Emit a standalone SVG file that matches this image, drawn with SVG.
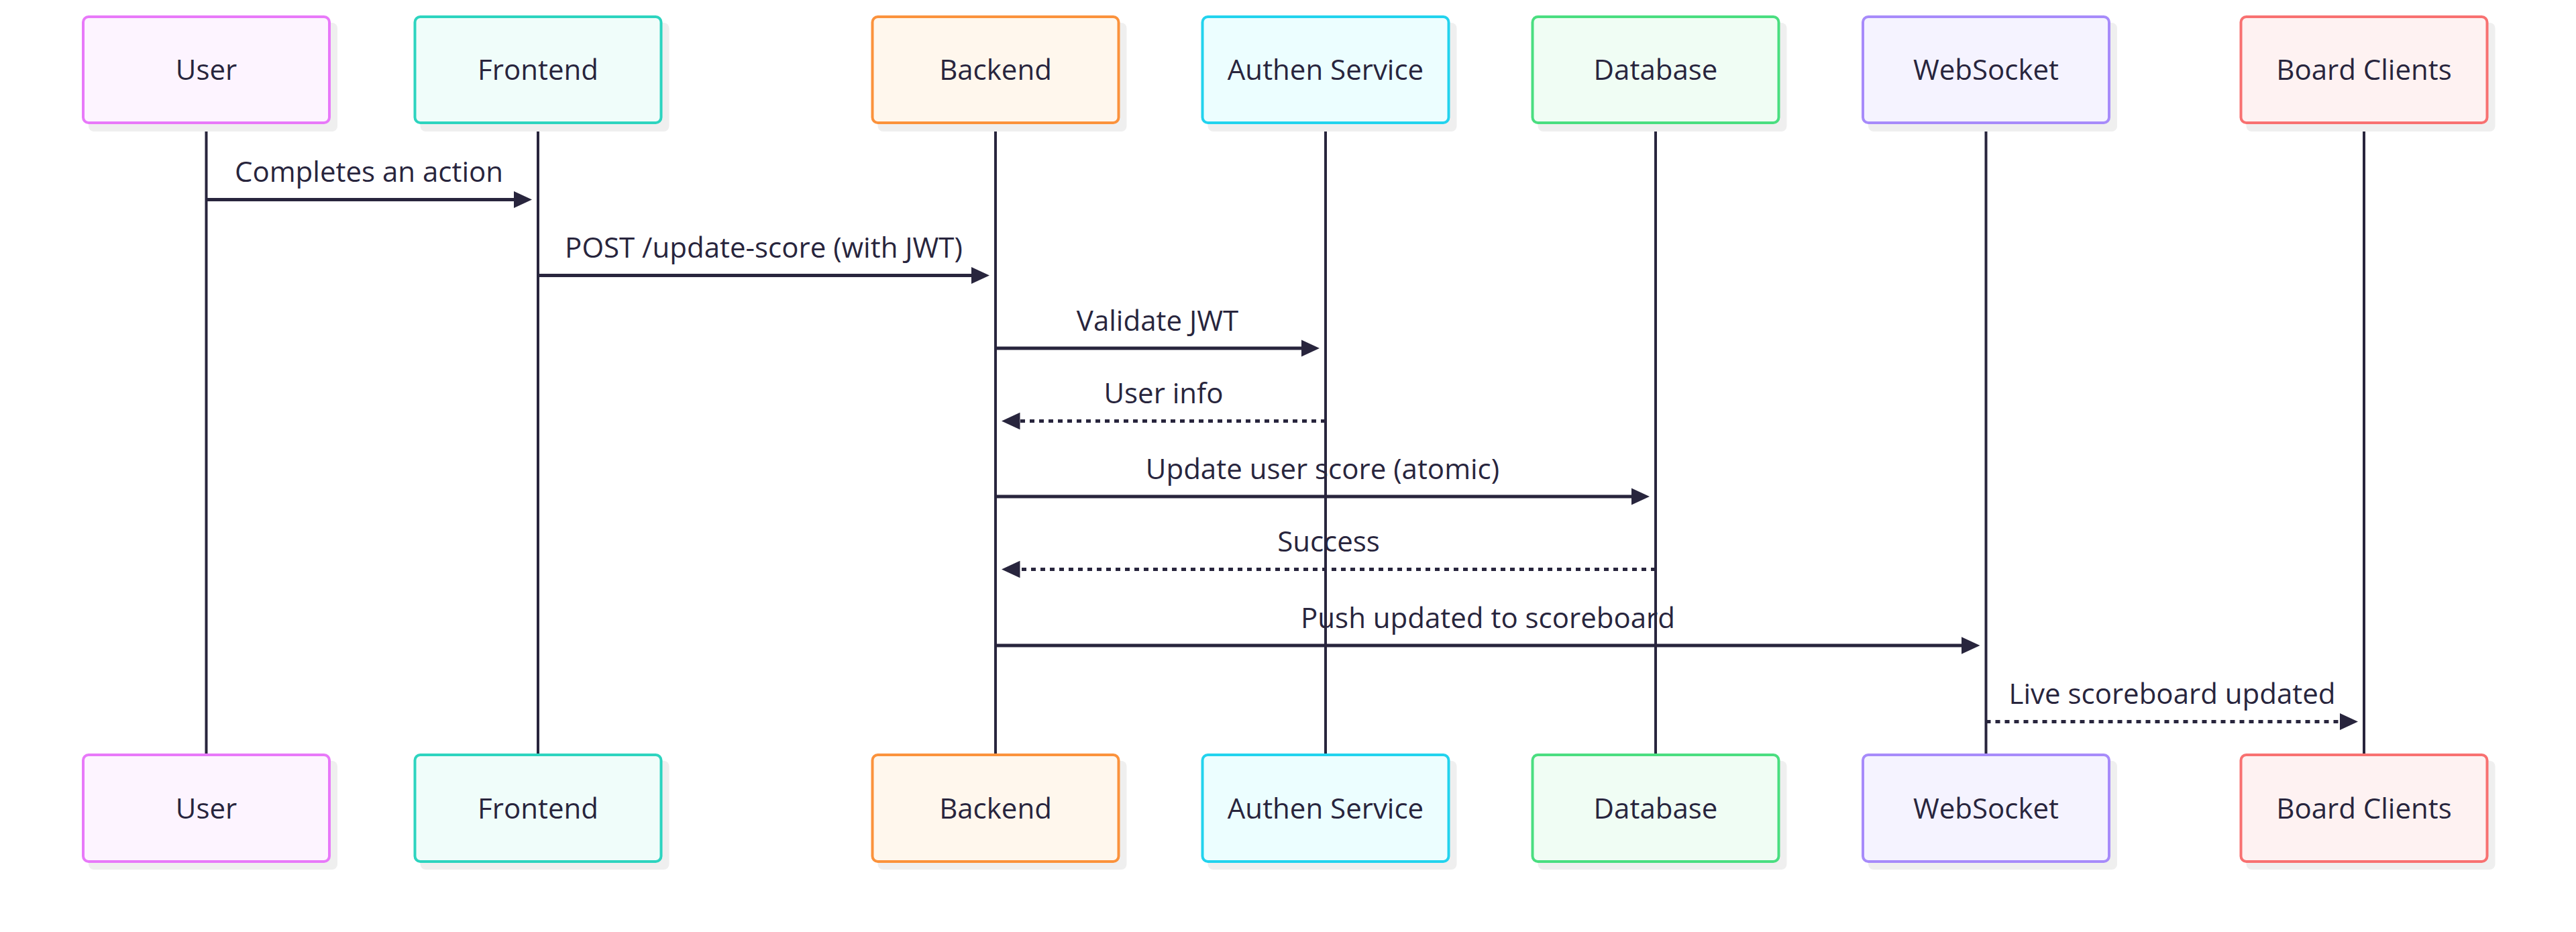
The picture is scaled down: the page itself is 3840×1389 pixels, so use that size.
<svg xmlns="http://www.w3.org/2000/svg" width="3840" height="1389" viewBox="0 0 3840 1389">
<style>
.shadow{fill:#efefef}
.box{stroke-width:4}
.lbl{font-family:"Open Sans","Noto Sans","Liberation Sans",sans-serif;font-size:42px;fill:#28253d;text-anchor:middle}
.life{stroke:#28253d;stroke-width:4;fill:none}
.msg{stroke:#28253d;stroke-width:4.9;fill:none;marker-end:url(#ah)}
.dash{stroke-dasharray:7 7}
</style>
<defs>
<marker id="ah" markerUnits="userSpaceOnUse" viewBox="0 0 27.5 25.5" refX="7.5" refY="12.75" markerWidth="27.5" markerHeight="25.5" orient="auto"><path d="M0,0 L27.5,12.75 L0,25.5 z" fill="#28253d"/></marker>
</defs>
<rect width="3840" height="1389" fill="#ffffff"/>
<g id="lifelines">
<line class="life" x1="307.5" y1="183" x2="307.5" y2="1125"/>
<line class="life" x1="802" y1="183" x2="802" y2="1125"/>
<line class="life" x1="1484" y1="183" x2="1484" y2="1125"/>
<line class="life" x1="1976" y1="183" x2="1976" y2="1125"/>
<line class="life" x1="2468" y1="183" x2="2468" y2="1125"/>
<line class="life" x1="2960.5" y1="183" x2="2960.5" y2="1125"/>
<line class="life" x1="3524" y1="183" x2="3524" y2="1125"/>
</g>
<g id="user">
<rect class="shadow" x="132" y="34" width="371" height="162" rx="8"/>
<rect class="box" x="124" y="25" width="367" height="158" rx="8" fill="#fdf4ff" stroke="#e879f9"/>
<text class="lbl" x="307.5" y="119">User</text>
<rect class="shadow" x="132" y="1134" width="371" height="162" rx="8"/>
<rect class="box" x="124" y="1125" width="367" height="159" rx="8" fill="#fdf4ff" stroke="#e879f9"/>
<text class="lbl" x="307.5" y="1219.5">User</text>
</g>
<g id="frontend">
<rect class="shadow" x="626.5" y="34" width="371" height="162" rx="8"/>
<rect class="box" x="618.5" y="25" width="367" height="158" rx="8" fill="#f0fdfa" stroke="#2dd4bf"/>
<text class="lbl" x="802" y="119">Frontend</text>
<rect class="shadow" x="626.5" y="1134" width="371" height="162" rx="8"/>
<rect class="box" x="618.5" y="1125" width="367" height="159" rx="8" fill="#f0fdfa" stroke="#2dd4bf"/>
<text class="lbl" x="802" y="1219.5">Frontend</text>
</g>
<g id="backend">
<rect class="shadow" x="1308.5" y="34" width="371" height="162" rx="8"/>
<rect class="box" x="1300.5" y="25" width="367" height="158" rx="8" fill="#fff7ed" stroke="#fb923c"/>
<text class="lbl" x="1484" y="119">Backend</text>
<rect class="shadow" x="1308.5" y="1134" width="371" height="162" rx="8"/>
<rect class="box" x="1300.5" y="1125" width="367" height="159" rx="8" fill="#fff7ed" stroke="#fb923c"/>
<text class="lbl" x="1484" y="1219.5">Backend</text>
</g>
<g id="authen">
<rect class="shadow" x="1800.5" y="34" width="371" height="162" rx="8"/>
<rect class="box" x="1792.5" y="25" width="367" height="158" rx="8" fill="#ecfeff" stroke="#22d3ee"/>
<text class="lbl" x="1976" y="119">Authen Service</text>
<rect class="shadow" x="1800.5" y="1134" width="371" height="162" rx="8"/>
<rect class="box" x="1792.5" y="1125" width="367" height="159" rx="8" fill="#ecfeff" stroke="#22d3ee"/>
<text class="lbl" x="1976" y="1219.5">Authen Service</text>
</g>
<g id="database">
<rect class="shadow" x="2292.5" y="34" width="371" height="162" rx="8"/>
<rect class="box" x="2284.5" y="25" width="367" height="158" rx="8" fill="#f0fdf4" stroke="#4ade80"/>
<text class="lbl" x="2468" y="119">Database</text>
<rect class="shadow" x="2292.5" y="1134" width="371" height="162" rx="8"/>
<rect class="box" x="2284.5" y="1125" width="367" height="159" rx="8" fill="#f0fdf4" stroke="#4ade80"/>
<text class="lbl" x="2468" y="1219.5">Database</text>
</g>
<g id="websocket">
<rect class="shadow" x="2785" y="34" width="371" height="162" rx="8"/>
<rect class="box" x="2777" y="25" width="367" height="158" rx="8" fill="#f5f3ff" stroke="#a78bfa"/>
<text class="lbl" x="2960.5" y="119">WebSocket</text>
<rect class="shadow" x="2785" y="1134" width="371" height="162" rx="8"/>
<rect class="box" x="2777" y="1125" width="367" height="159" rx="8" fill="#f5f3ff" stroke="#a78bfa"/>
<text class="lbl" x="2960.5" y="1219.5">WebSocket</text>
</g>
<g id="boardclients">
<rect class="shadow" x="3348.5" y="34" width="371" height="162" rx="8"/>
<rect class="box" x="3340.5" y="25" width="367" height="158" rx="8" fill="#fef2f2" stroke="#f87171"/>
<text class="lbl" x="3524" y="119">Board Clients</text>
<rect class="shadow" x="3348.5" y="1134" width="371" height="162" rx="8"/>
<rect class="box" x="3340.5" y="1125" width="367" height="159" rx="8" fill="#fef2f2" stroke="#f87171"/>
<text class="lbl" x="3524" y="1219.5">Board Clients</text>
</g>
<g id="connectors">
<line class="msg" x1="307.5" y1="297.5" x2="773" y2="297.5"/>
<text class="lbl" x="550" y="271">Completes an action</text>
<line class="msg" x1="802" y1="410.5" x2="1455" y2="410.5"/>
<text class="lbl" x="1138.5" y="384">POST /update-score (with JWT)</text>
<line class="msg" x1="1484" y1="519" x2="1947" y2="519"/>
<text class="lbl" x="1725.5" y="492.5">Validate JWT</text>
<line class="msg dash" x1="1976" y1="627.5" x2="1513" y2="627.5"/>
<text class="lbl" x="1734.5" y="601">User info</text>
<line class="msg" x1="1484" y1="740" x2="2439" y2="740"/>
<text class="lbl" x="1971.5" y="713.5">Update user score (atomic)</text>
<line class="msg dash" x1="2468" y1="848.5" x2="1513" y2="848.5"/>
<text class="lbl" x="1980.5" y="822">Success</text>
<line class="msg" x1="1484" y1="962" x2="2931.5" y2="962"/>
<text class="lbl" x="2218" y="935.5">Push updated to scoreboard</text>
<line class="msg dash" x1="2960.5" y1="1075.5" x2="3495" y2="1075.5"/>
<text class="lbl" x="3238" y="1049">Live scoreboard updated</text>
</g>
</svg>
